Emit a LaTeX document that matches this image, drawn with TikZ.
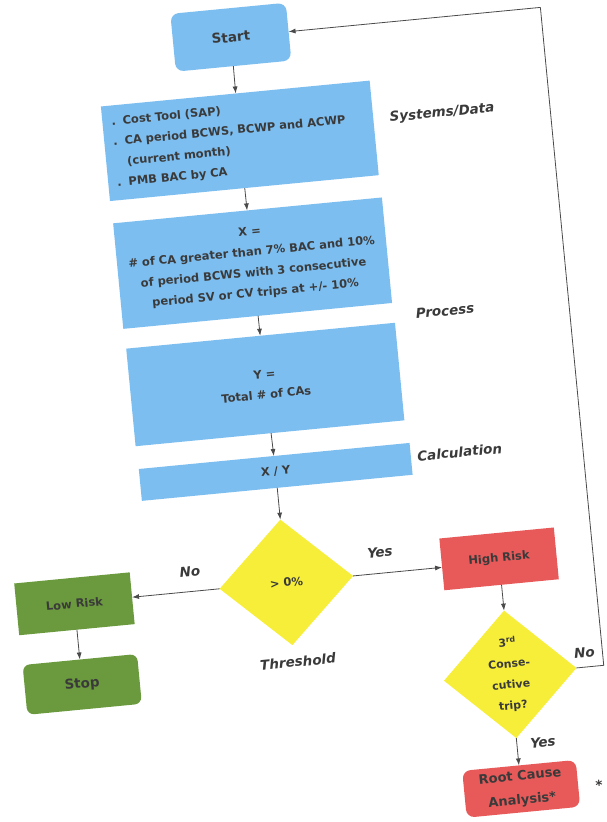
\documentclass[tikz,border=0pt]{standalone}
\usepackage{fontspec}
\setmainfont{DejaVu Sans}
\usetikzlibrary{shapes.geometric,arrows.meta}
\definecolor{boxblue}{HTML}{7DBEF0}
\definecolor{boxgreen}{HTML}{6B9A3E}
\definecolor{boxred}{HTML}{E85A5A}
\definecolor{boxyellow}{HTML}{F7EE3A}
\definecolor{txtgray}{HTML}{3A3A3A}
\definecolor{linegray}{HTML}{4A4A4A}
\begin{document}
\begin{tikzpicture}[x=1pt,y=-1pt,
  base/.style={inner sep=0pt, outer sep=0pt, text=txtgray, font=\bfseries\fontsize{11.5}{20.5}\selectfont},
  bluebox/.style={base, fill=boxblue, align=center},
  greenbox/.style={base, fill=boxgreen, minimum width=116, minimum height=52},
  redbox/.style={base, fill=boxred, minimum width=115, minimum height=52},
  yellowdia/.style={base, fill=boxyellow, shape=diamond},
  sidelabel/.style={inner sep=0pt, text=txtgray, font=\bfseries\itshape\fontsize{13.5}{16}\selectfont},
  conn/.style={draw=linegray, line width=0.8pt, -{Latex[length=7pt,width=5pt]}},
  loopline/.style={draw=linegray, line width=0.8pt}
]
\fill[white] (0,0) rectangle (606,822);
\useasboundingbox (0,0) rectangle (606,822);
\begin{scope}[rotate around={5.5:(303,411)}, transform shape]
  % main column
  \node[bluebox, rounded corners=8pt, minimum width=116, minimum height=58,
        font=\bfseries\fontsize{13.5}{20}\selectfont] (start) at (267,32) {Start};
  \node[bluebox, minimum width=270, minimum height=95, align=left, text width=252] (sys) at (266,136)
    {.\hspace{7pt}Cost Tool (SAP)\\
     .\hspace{7pt}CA period BCWS, BCWP and ACWP\\
     \hspace{12pt}(current month)\\
     .\hspace{7pt}PMB BAC by CA};
  \node[bluebox, minimum width=270, minimum height=106] (xbox) at (267,259)
    {X =\\
     \# of CA greater than 7\% BAC and 10\%\\
     of period BCWS with 3 consecutive\\
     period SV or CV trips at +/- 10\%};
  \node[bluebox, minimum width=270, minimum height=98] (ybox) at (268,381)
    {Y =\\ Total \# of CAs};
  \node[bluebox, minimum width=272, minimum height=32] (xy) at (270,469) {X / Y};
  \node[yellowdia, minimum width=134, minimum height=126] (d1) at (270,580) {> 0\%};
  % left branch
  \node[greenbox] (low) at (57,581) {Low Risk};
  \node[greenbox, rounded corners=7pt, minimum width=115, minimum height=50,
        font=\bfseries\fontsize{13.5}{20}\selectfont] (stop) at (57,662) {Stop};
  % right branch
  \node[redbox] (high) at (484,577) {High Risk};
  \node[yellowdia, minimum width=133, minimum height=128] (d2) at (484,693) {};
  \node[base, align=center, font=\bfseries\fontsize{11}{21}\selectfont] (d2t) at (d2.center)
    {3\textsuperscript{rd}\\Conse-\\cutive\\trip?};
  \node[redbox, rounded corners=8pt, minimum width=114, minimum height=47, align=center,
        font=\bfseries\fontsize{13}{24}\selectfont] (rc) at (484,808) {Root Cause\\Analysis*};
  % side labels
  \node[sidelabel] (sysl) at (470,128) {Systems/Data};
  \node[sidelabel] (procl) at (454,325) {Process};
  \node[sidelabel] (calcl) at (455,467) {Calculation};
  \node[sidelabel] (thrl) at (274,660) {Threshold};
  \node[sidelabel] (nol) at (175,560) {No};
  \node[sidelabel] (yesl) at (366,559) {Yes};
  \node[sidelabel] (no2l) at (560,679) {No};
  \node[sidelabel] (yes2l) at (510,764) {Yes};
  \node[sidelabel] (star) at (562,812) {*};
  % connectors
  \draw[conn] (start) -- (sys);
  \draw[conn] (sys) -- (xbox);
  \draw[conn] (xbox) -- (ybox);
  \draw[conn] (ybox) -- (xy);
  \draw[conn] (xy) -- (d1);
  \draw[conn] (d1.west) -- (d1.west -| low.east);
  \draw[conn] (d1.east) -- (d1.east -| high.west);
  \draw[conn] (low) -- (stop);
  \draw[conn] (high) -- (d2);
  \draw[conn] (d2) -- (rc);
  \coordinate (loopx) at (578,32);
  \draw[loopline] (d2.east) -| (loopx);
  \draw[conn] (loopx) -- (start.east);
\end{scope}
\end{tikzpicture}
\end{document}
